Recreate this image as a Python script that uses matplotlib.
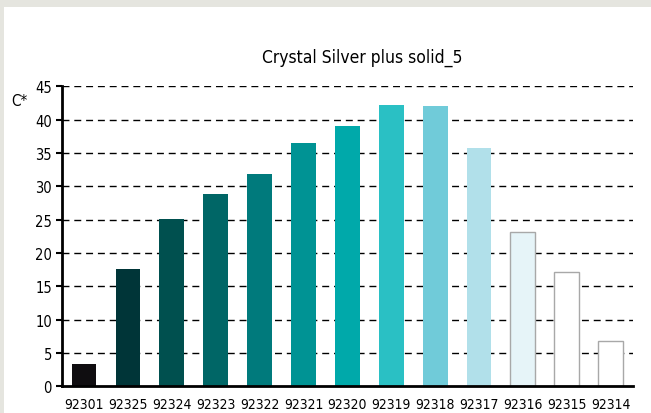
import matplotlib
matplotlib.use("Agg")
import matplotlib.pyplot as plt
from matplotlib.patches import Rectangle

categories = ["92301", "92325", "92324", "92323", "92322", "92321", "92320",
              "92319", "92318", "92317", "92316", "92315", "92314"]
values = [3.4, 17.6, 25.1, 28.8, 31.8, 36.5, 39.0, 42.2, 42.0, 35.7, 23.1, 17.1, 6.8]
colors = ["#0f0d10", "#003538", "#00504f", "#006666", "#007a7c", "#009394", "#00a9aa",
          "#2ac0c4", "#70cbd9", "#b1e0ea", "#e6f4f8", "#ffffff", "#ffffff"]
edgecolors = ["none"] * 10 + ["#a8a8a8"] * 3
title = "Crystal Silver plus solid_5"
ylabel = "C*"
yticks = [0, 5, 10, 15, 20, 25, 30, 35, 40, 45]

W, H = 651, 414
fig = plt.figure(figsize=(W / 100, H / 100), dpi=100)
fig.patch.set_facecolor("#e5e5df")
fig.patches.append(Rectangle((4 / W, 0), 1, 1 - 8 / H, transform=fig.transFigure,
                             facecolor="white", edgecolor="none", zorder=-5))

fam = ["DejaVu Sans"]
st = "condensed"
ax = fig.add_axes([61.7 / W, 1 - 387.3 / H, (633 - 61.7) / W, (387.3 - 87.3) / H])
ax.set_facecolor("white")
x = list(range(len(categories)))
for i in x:
    ax.bar(i, values[i], width=0.565, color=colors[i],
           edgecolor=edgecolors[i], linewidth=1.0 if edgecolors[i] != "none" else 0,
           zorder=3)
ax.set_xlim(-0.51, len(categories) - 0.49)
ax.set_ylim(0, 45)
ax.set_yticks(yticks)
ax.set_yticklabels([str(t) for t in yticks], family=fam, stretch=st, fontsize=10.5)
ax.set_xticks(x)
ax.set_xticklabels(categories, family=fam, stretch=st, fontsize=10)
ax.tick_params(axis="x", length=0, pad=8)
ax.tick_params(axis="y", length=4, width=1.5, direction="out", pad=3)
for yv in yticks[1:]:
    ax.axhline(yv, color="black", linewidth=1, linestyle=(0, (5, 3.5)), zorder=1)
for s in ["top", "right"]:
    ax.spines[s].set_visible(False)
ax.spines["left"].set_linewidth(2)
ax.spines["bottom"].set_linewidth(2)
ax.spines["left"].set_zorder(4)
ax.spines["bottom"].set_zorder(4)

fig.text(362 / W, 1 - 58 / H, title, family=fam, stretch=st, fontsize=12.5,
         ha="center", va="center")
fig.text(19 / W, 1 - 102 / H, ylabel, family=fam, stretch=st, fontsize=11,
         ha="center", va="center")

fig.savefig("out.png", dpi=100)
